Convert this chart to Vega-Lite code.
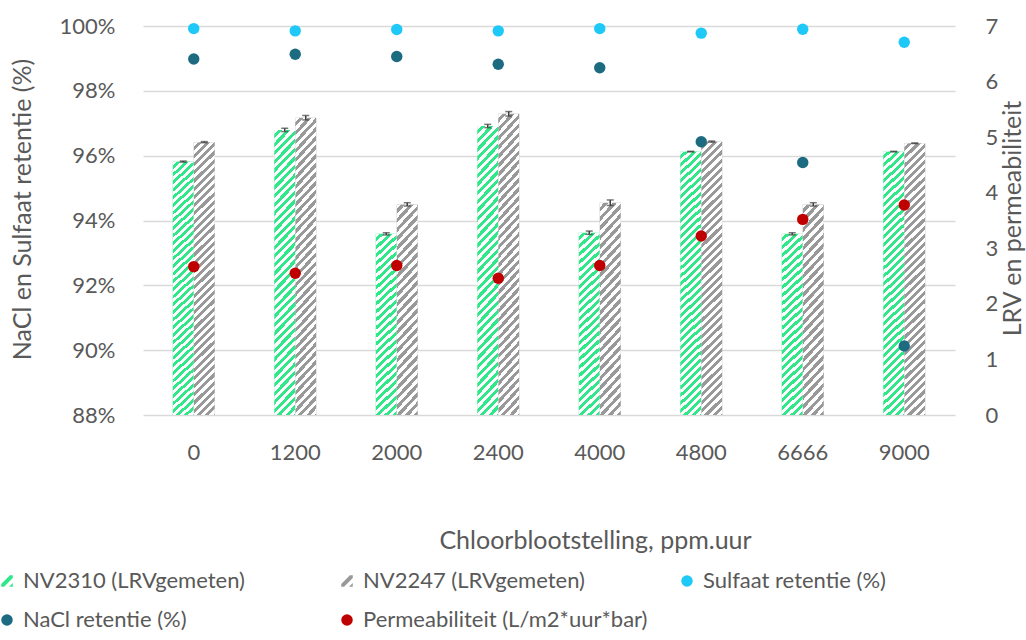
{
  "$schema": "https://vega.github.io/schema/vega-lite/v6.json",
  "width": 812,
  "height": 389,
  "autosize": {"type": "none"},
  "padding": {"left": 143, "top": 26, "right": 71, "bottom": 225},
  "config": {
    "view": {"stroke": null},
    "font": "Lato",
    "axis": {"labelFont": "Lato", "titleFont": "Lato", "labelColor": "#595959", "titleColor": "#595959", "labelFontSize": 22, "titleFontSize": 25, "titleFontWeight": "normal", "ticks": false, "tickSize": 0, "domain": false}
  },
  "datasets": {
    "bars": [
      {"x": "0", "series": "NV2310", "lrv": 4.56, "lo": 4.55, "hi": 4.57},
      {"x": "0", "series": "NV2247", "lrv": 4.91, "lo": 4.90, "hi": 4.92},
      {"x": "1200", "series": "NV2310", "lrv": 5.13, "lo": 5.10, "hi": 5.16},
      {"x": "1200", "series": "NV2247", "lrv": 5.35, "lo": 5.31, "hi": 5.39},
      {"x": "2000", "series": "NV2310", "lrv": 3.26, "lo": 3.24, "hi": 3.28},
      {"x": "2000", "series": "NV2247", "lrv": 3.79, "lo": 3.76, "hi": 3.82},
      {"x": "2400", "series": "NV2310", "lrv": 5.20, "lo": 5.17, "hi": 5.23},
      {"x": "2400", "series": "NV2247", "lrv": 5.42, "lo": 5.38, "hi": 5.46},
      {"x": "4000", "series": "NV2310", "lrv": 3.28, "lo": 3.25, "hi": 3.31},
      {"x": "4000", "series": "NV2247", "lrv": 3.82, "lo": 3.77, "hi": 3.87},
      {"x": "4800", "series": "NV2310", "lrv": 4.74, "lo": 4.735, "hi": 4.745},
      {"x": "4800", "series": "NV2247", "lrv": 4.92, "lo": 4.91, "hi": 4.93},
      {"x": "6666", "series": "NV2310", "lrv": 3.26, "lo": 3.24, "hi": 3.28},
      {"x": "6666", "series": "NV2247", "lrv": 3.79, "lo": 3.76, "hi": 3.82},
      {"x": "9000", "series": "NV2310", "lrv": 4.74, "lo": 4.735, "hi": 4.745},
      {"x": "9000", "series": "NV2247", "lrv": 4.89, "lo": 4.885, "hi": 4.895}
    ],
    "perm": [
      {"x": "0", "series": "Permeabiliteit (L/m2*uur*bar)", "v": 2.67},
      {"x": "1200", "series": "Permeabiliteit (L/m2*uur*bar)", "v": 2.55},
      {"x": "2000", "series": "Permeabiliteit (L/m2*uur*bar)", "v": 2.69},
      {"x": "2400", "series": "Permeabiliteit (L/m2*uur*bar)", "v": 2.46},
      {"x": "4000", "series": "Permeabiliteit (L/m2*uur*bar)", "v": 2.69},
      {"x": "4800", "series": "Permeabiliteit (L/m2*uur*bar)", "v": 3.22},
      {"x": "6666", "series": "Permeabiliteit (L/m2*uur*bar)", "v": 3.52},
      {"x": "9000", "series": "Permeabiliteit (L/m2*uur*bar)", "v": 3.78}
    ],
    "ret": [
      {"x": "0", "series": "Sulfaat retentie (%)", "v": 0.9992},
      {"x": "1200", "series": "Sulfaat retentie (%)", "v": 0.9985},
      {"x": "2000", "series": "Sulfaat retentie (%)", "v": 0.9989},
      {"x": "2400", "series": "Sulfaat retentie (%)", "v": 0.9985},
      {"x": "4000", "series": "Sulfaat retentie (%)", "v": 0.9992},
      {"x": "4800", "series": "Sulfaat retentie (%)", "v": 0.9978},
      {"x": "6666", "series": "Sulfaat retentie (%)", "v": 0.9990},
      {"x": "9000", "series": "Sulfaat retentie (%)", "v": 0.9950},
      {"x": "0", "series": "NaCl retentie (%)", "v": 0.9898},
      {"x": "1200", "series": "NaCl retentie (%)", "v": 0.9913},
      {"x": "2000", "series": "NaCl retentie (%)", "v": 0.9906},
      {"x": "2400", "series": "NaCl retentie (%)", "v": 0.9882},
      {"x": "4000", "series": "NaCl retentie (%)", "v": 0.9871},
      {"x": "4800", "series": "NaCl retentie (%)", "v": 0.9643},
      {"x": "6666", "series": "NaCl retentie (%)", "v": 0.9579},
      {"x": "9000", "series": "NaCl retentie (%)", "v": 0.9013}
    ]
  },
  "layer": [
    {
      "layer": [
        {
          "data": {"name": "bars"},
          "mark": {"type": "bar"},
          "encoding": {
            "x": {"field": "x", "type": "nominal", "scale": {"domain": ["0", "1200", "2000", "2400", "4000", "4800", "6666", "9000"], "paddingInner": 0.586, "paddingOuter": 0.293}, "axis": {"title": "Chloorblootstelling, ppm.uur", "labelAngle": 0, "labelPadding": 37, "labelBaseline": "middle", "titleX": 452, "titleY": 125, "titleBaseline": "middle", "titleAlign": "center", "grid": false}},
            "xOffset": {"field": "series", "type": "nominal", "scale": {"domain": ["NV2310", "NV2247"], "paddingInner": 0, "paddingOuter": 0}},
            "y": {"field": "lrv", "type": "quantitative", "scale": {"domain": [0, 7], "nice": false, "zero": true}, "axis": {"orient": "right", "title": "LRV en permeabiliteit", "values": [0, 1, 2, 3, 4, 5, 6, 7], "format": "d", "grid": false, "labelPadding": 30, "titleAngle": 270, "titleX": 57, "titleY": 192, "titleBaseline": "middle", "titleAlign": "center"}},
            "fill": {"condition": {"test": "datum.series === 'NV2310'", "value": "#30E88A"}, "value": "#999999"}
          }
        },
        {
          "data": {"name": "bars"},
          "mark": {"type": "bar"},
          "encoding": {
            "x": {"field": "x", "type": "nominal"},
            "xOffset": {"field": "series", "type": "nominal"},
            "y": {"field": "lrv", "type": "quantitative"},
            "fill": {
              "condition": {"test": "datum.lrv < 4", "value": {"gradient": "linear", "x1": 0, "y1": 0, "x2": 0.117, "y2": 1.095, "stops": [
                {"offset": 0, "color": "#fff"}, {"offset": 0.02, "color": "#fff"}, {"offset": 0.02, "color": "rgba(255,255,255,0)"}, {"offset": 0.04, "color": "rgba(255,255,255,0)"},
                {"offset": 0.04, "color": "#fff"}, {"offset": 0.06, "color": "#fff"}, {"offset": 0.06, "color": "rgba(255,255,255,0)"}, {"offset": 0.08, "color": "rgba(255,255,255,0)"},
                {"offset": 0.08, "color": "#fff"}, {"offset": 0.1, "color": "#fff"}, {"offset": 0.1, "color": "rgba(255,255,255,0)"}, {"offset": 0.12, "color": "rgba(255,255,255,0)"},
                {"offset": 0.12, "color": "#fff"}, {"offset": 0.14, "color": "#fff"}, {"offset": 0.14, "color": "rgba(255,255,255,0)"}, {"offset": 0.16, "color": "rgba(255,255,255,0)"},
                {"offset": 0.16, "color": "#fff"}, {"offset": 0.18, "color": "#fff"}, {"offset": 0.18, "color": "rgba(255,255,255,0)"}, {"offset": 0.2, "color": "rgba(255,255,255,0)"},
                {"offset": 0.2, "color": "#fff"}, {"offset": 0.22, "color": "#fff"}, {"offset": 0.22, "color": "rgba(255,255,255,0)"}, {"offset": 0.24, "color": "rgba(255,255,255,0)"},
                {"offset": 0.24, "color": "#fff"}, {"offset": 0.26, "color": "#fff"}, {"offset": 0.26, "color": "rgba(255,255,255,0)"}, {"offset": 0.28, "color": "rgba(255,255,255,0)"},
                {"offset": 0.28, "color": "#fff"}, {"offset": 0.3, "color": "#fff"}, {"offset": 0.3, "color": "rgba(255,255,255,0)"}, {"offset": 0.32, "color": "rgba(255,255,255,0)"},
                {"offset": 0.32, "color": "#fff"}, {"offset": 0.34, "color": "#fff"}, {"offset": 0.34, "color": "rgba(255,255,255,0)"}, {"offset": 0.36, "color": "rgba(255,255,255,0)"},
                {"offset": 0.36, "color": "#fff"}, {"offset": 0.38, "color": "#fff"}, {"offset": 0.38, "color": "rgba(255,255,255,0)"}, {"offset": 0.4, "color": "rgba(255,255,255,0)"},
                {"offset": 0.4, "color": "#fff"}, {"offset": 0.42, "color": "#fff"}, {"offset": 0.42, "color": "rgba(255,255,255,0)"}, {"offset": 0.44, "color": "rgba(255,255,255,0)"},
                {"offset": 0.44, "color": "#fff"}, {"offset": 0.46, "color": "#fff"}, {"offset": 0.46, "color": "rgba(255,255,255,0)"}, {"offset": 0.48, "color": "rgba(255,255,255,0)"},
                {"offset": 0.48, "color": "#fff"}, {"offset": 0.5, "color": "#fff"}, {"offset": 0.5, "color": "rgba(255,255,255,0)"}, {"offset": 0.52, "color": "rgba(255,255,255,0)"},
                {"offset": 0.52, "color": "#fff"}, {"offset": 0.54, "color": "#fff"}, {"offset": 0.54, "color": "rgba(255,255,255,0)"}, {"offset": 0.56, "color": "rgba(255,255,255,0)"},
                {"offset": 0.56, "color": "#fff"}, {"offset": 0.58, "color": "#fff"}, {"offset": 0.58, "color": "rgba(255,255,255,0)"}, {"offset": 0.6, "color": "rgba(255,255,255,0)"},
                {"offset": 0.6, "color": "#fff"}, {"offset": 0.62, "color": "#fff"}, {"offset": 0.62, "color": "rgba(255,255,255,0)"}, {"offset": 0.64, "color": "rgba(255,255,255,0)"},
                {"offset": 0.64, "color": "#fff"}, {"offset": 0.66, "color": "#fff"}, {"offset": 0.66, "color": "rgba(255,255,255,0)"}, {"offset": 0.68, "color": "rgba(255,255,255,0)"},
                {"offset": 0.68, "color": "#fff"}, {"offset": 0.7, "color": "#fff"}, {"offset": 0.7, "color": "rgba(255,255,255,0)"}, {"offset": 0.72, "color": "rgba(255,255,255,0)"},
                {"offset": 0.72, "color": "#fff"}, {"offset": 0.74, "color": "#fff"}, {"offset": 0.74, "color": "rgba(255,255,255,0)"}, {"offset": 0.76, "color": "rgba(255,255,255,0)"},
                {"offset": 0.76, "color": "#fff"}, {"offset": 0.78, "color": "#fff"}, {"offset": 0.78, "color": "rgba(255,255,255,0)"}, {"offset": 0.8, "color": "rgba(255,255,255,0)"},
                {"offset": 0.8, "color": "#fff"}, {"offset": 0.82, "color": "#fff"}, {"offset": 0.82, "color": "rgba(255,255,255,0)"}, {"offset": 0.84, "color": "rgba(255,255,255,0)"},
                {"offset": 0.84, "color": "#fff"}, {"offset": 0.86, "color": "#fff"}, {"offset": 0.86, "color": "rgba(255,255,255,0)"}, {"offset": 0.88, "color": "rgba(255,255,255,0)"},
                {"offset": 0.88, "color": "#fff"}, {"offset": 0.9, "color": "#fff"}, {"offset": 0.9, "color": "rgba(255,255,255,0)"}, {"offset": 0.92, "color": "rgba(255,255,255,0)"},
                {"offset": 0.92, "color": "#fff"}, {"offset": 0.94, "color": "#fff"}, {"offset": 0.94, "color": "rgba(255,255,255,0)"}, {"offset": 0.96, "color": "rgba(255,255,255,0)"},
                {"offset": 0.96, "color": "#fff"}, {"offset": 0.98, "color": "#fff"}, {"offset": 0.98, "color": "rgba(255,255,255,0)"}, {"offset": 1, "color": "rgba(255,255,255,0)"}
              ]}},
              "value": {"gradient": "linear", "x1": 0, "y1": 0, "x2": 0.0813, "y2": 1.07, "stops": [
                {"offset": 0, "color": "#fff"}, {"offset": 0.014, "color": "#fff"}, {"offset": 0.014, "color": "rgba(255,255,255,0)"}, {"offset": 0.028, "color": "rgba(255,255,255,0)"},
                {"offset": 0.028, "color": "#fff"}, {"offset": 0.042, "color": "#fff"}, {"offset": 0.042, "color": "rgba(255,255,255,0)"}, {"offset": 0.056, "color": "rgba(255,255,255,0)"},
                {"offset": 0.056, "color": "#fff"}, {"offset": 0.07, "color": "#fff"}, {"offset": 0.07, "color": "rgba(255,255,255,0)"}, {"offset": 0.084, "color": "rgba(255,255,255,0)"},
                {"offset": 0.084, "color": "#fff"}, {"offset": 0.098, "color": "#fff"}, {"offset": 0.098, "color": "rgba(255,255,255,0)"}, {"offset": 0.112, "color": "rgba(255,255,255,0)"},
                {"offset": 0.112, "color": "#fff"}, {"offset": 0.126, "color": "#fff"}, {"offset": 0.126, "color": "rgba(255,255,255,0)"}, {"offset": 0.14, "color": "rgba(255,255,255,0)"},
                {"offset": 0.14, "color": "#fff"}, {"offset": 0.154, "color": "#fff"}, {"offset": 0.154, "color": "rgba(255,255,255,0)"}, {"offset": 0.168, "color": "rgba(255,255,255,0)"},
                {"offset": 0.168, "color": "#fff"}, {"offset": 0.182, "color": "#fff"}, {"offset": 0.182, "color": "rgba(255,255,255,0)"}, {"offset": 0.196, "color": "rgba(255,255,255,0)"},
                {"offset": 0.196, "color": "#fff"}, {"offset": 0.21, "color": "#fff"}, {"offset": 0.21, "color": "rgba(255,255,255,0)"}, {"offset": 0.224, "color": "rgba(255,255,255,0)"},
                {"offset": 0.224, "color": "#fff"}, {"offset": 0.238, "color": "#fff"}, {"offset": 0.238, "color": "rgba(255,255,255,0)"}, {"offset": 0.252, "color": "rgba(255,255,255,0)"},
                {"offset": 0.252, "color": "#fff"}, {"offset": 0.266, "color": "#fff"}, {"offset": 0.266, "color": "rgba(255,255,255,0)"}, {"offset": 0.28, "color": "rgba(255,255,255,0)"},
                {"offset": 0.28, "color": "#fff"}, {"offset": 0.294, "color": "#fff"}, {"offset": 0.294, "color": "rgba(255,255,255,0)"}, {"offset": 0.308, "color": "rgba(255,255,255,0)"},
                {"offset": 0.308, "color": "#fff"}, {"offset": 0.322, "color": "#fff"}, {"offset": 0.322, "color": "rgba(255,255,255,0)"}, {"offset": 0.336, "color": "rgba(255,255,255,0)"},
                {"offset": 0.336, "color": "#fff"}, {"offset": 0.35, "color": "#fff"}, {"offset": 0.35, "color": "rgba(255,255,255,0)"}, {"offset": 0.364, "color": "rgba(255,255,255,0)"},
                {"offset": 0.364, "color": "#fff"}, {"offset": 0.378, "color": "#fff"}, {"offset": 0.378, "color": "rgba(255,255,255,0)"}, {"offset": 0.392, "color": "rgba(255,255,255,0)"},
                {"offset": 0.392, "color": "#fff"}, {"offset": 0.406, "color": "#fff"}, {"offset": 0.406, "color": "rgba(255,255,255,0)"}, {"offset": 0.42, "color": "rgba(255,255,255,0)"},
                {"offset": 0.42, "color": "#fff"}, {"offset": 0.434, "color": "#fff"}, {"offset": 0.434, "color": "rgba(255,255,255,0)"}, {"offset": 0.448, "color": "rgba(255,255,255,0)"},
                {"offset": 0.448, "color": "#fff"}, {"offset": 0.462, "color": "#fff"}, {"offset": 0.462, "color": "rgba(255,255,255,0)"}, {"offset": 0.476, "color": "rgba(255,255,255,0)"},
                {"offset": 0.476, "color": "#fff"}, {"offset": 0.49, "color": "#fff"}, {"offset": 0.49, "color": "rgba(255,255,255,0)"}, {"offset": 0.504, "color": "rgba(255,255,255,0)"},
                {"offset": 0.504, "color": "#fff"}, {"offset": 0.518, "color": "#fff"}, {"offset": 0.518, "color": "rgba(255,255,255,0)"}, {"offset": 0.532, "color": "rgba(255,255,255,0)"},
                {"offset": 0.532, "color": "#fff"}, {"offset": 0.546, "color": "#fff"}, {"offset": 0.546, "color": "rgba(255,255,255,0)"}, {"offset": 0.56, "color": "rgba(255,255,255,0)"},
                {"offset": 0.56, "color": "#fff"}, {"offset": 0.574, "color": "#fff"}, {"offset": 0.574, "color": "rgba(255,255,255,0)"}, {"offset": 0.588, "color": "rgba(255,255,255,0)"},
                {"offset": 0.588, "color": "#fff"}, {"offset": 0.602, "color": "#fff"}, {"offset": 0.602, "color": "rgba(255,255,255,0)"}, {"offset": 0.616, "color": "rgba(255,255,255,0)"},
                {"offset": 0.616, "color": "#fff"}, {"offset": 0.63, "color": "#fff"}, {"offset": 0.63, "color": "rgba(255,255,255,0)"}, {"offset": 0.644, "color": "rgba(255,255,255,0)"},
                {"offset": 0.644, "color": "#fff"}, {"offset": 0.658, "color": "#fff"}, {"offset": 0.658, "color": "rgba(255,255,255,0)"}, {"offset": 0.672, "color": "rgba(255,255,255,0)"},
                {"offset": 0.672, "color": "#fff"}, {"offset": 0.686, "color": "#fff"}, {"offset": 0.686, "color": "rgba(255,255,255,0)"}, {"offset": 0.7, "color": "rgba(255,255,255,0)"},
                {"offset": 0.7, "color": "#fff"}, {"offset": 0.714, "color": "#fff"}, {"offset": 0.714, "color": "rgba(255,255,255,0)"}, {"offset": 0.728, "color": "rgba(255,255,255,0)"},
                {"offset": 0.728, "color": "#fff"}, {"offset": 0.742, "color": "#fff"}, {"offset": 0.742, "color": "rgba(255,255,255,0)"}, {"offset": 0.756, "color": "rgba(255,255,255,0)"},
                {"offset": 0.756, "color": "#fff"}, {"offset": 0.77, "color": "#fff"}, {"offset": 0.77, "color": "rgba(255,255,255,0)"}, {"offset": 0.784, "color": "rgba(255,255,255,0)"},
                {"offset": 0.784, "color": "#fff"}, {"offset": 0.798, "color": "#fff"}, {"offset": 0.798, "color": "rgba(255,255,255,0)"}, {"offset": 0.812, "color": "rgba(255,255,255,0)"},
                {"offset": 0.812, "color": "#fff"}, {"offset": 0.826, "color": "#fff"}, {"offset": 0.826, "color": "rgba(255,255,255,0)"}, {"offset": 0.84, "color": "rgba(255,255,255,0)"},
                {"offset": 0.84, "color": "#fff"}, {"offset": 0.854, "color": "#fff"}, {"offset": 0.854, "color": "rgba(255,255,255,0)"}, {"offset": 0.868, "color": "rgba(255,255,255,0)"},
                {"offset": 0.868, "color": "#fff"}, {"offset": 0.882, "color": "#fff"}, {"offset": 0.882, "color": "rgba(255,255,255,0)"}, {"offset": 0.896, "color": "rgba(255,255,255,0)"},
                {"offset": 0.896, "color": "#fff"}, {"offset": 0.91, "color": "#fff"}, {"offset": 0.91, "color": "rgba(255,255,255,0)"}, {"offset": 0.924, "color": "rgba(255,255,255,0)"},
                {"offset": 0.924, "color": "#fff"}, {"offset": 0.938, "color": "#fff"}, {"offset": 0.938, "color": "rgba(255,255,255,0)"}, {"offset": 0.952, "color": "rgba(255,255,255,0)"},
                {"offset": 0.952, "color": "#fff"}, {"offset": 0.966, "color": "#fff"}, {"offset": 0.966, "color": "rgba(255,255,255,0)"}, {"offset": 0.98, "color": "rgba(255,255,255,0)"},
                {"offset": 0.98, "color": "#fff"}, {"offset": 0.994, "color": "#fff"}, {"offset": 0.994, "color": "rgba(255,255,255,0)"}, {"offset": 1, "color": "rgba(255,255,255,0)"}
              ]}
            }
          }
        },
        {
          "data": {"name": "bars"},
          "mark": {"type": "rule", "color": "#404040", "strokeWidth": 1.5},
          "encoding": {
            "x": {"field": "x", "type": "nominal"},
            "xOffset": {"field": "series", "type": "nominal"},
            "y": {"field": "lo", "type": "quantitative"},
            "y2": {"field": "hi"}
          }
        },
        {
          "data": {"name": "bars"},
          "mark": {"type": "tick", "color": "#404040", "size": 7, "thickness": 1.5},
          "encoding": {
            "x": {"field": "x", "type": "nominal"},
            "xOffset": {"field": "series", "type": "nominal"},
            "y": {"field": "lo", "type": "quantitative"}
          }
        },
        {
          "data": {"name": "bars"},
          "mark": {"type": "tick", "color": "#404040", "size": 7, "thickness": 1.5},
          "encoding": {
            "x": {"field": "x", "type": "nominal"},
            "xOffset": {"field": "series", "type": "nominal"},
            "y": {"field": "hi", "type": "quantitative"}
          }
        },
        {
          "data": {"name": "perm"},
          "mark": {"type": "point", "filled": true, "size": 130, "opacity": 1},
          "encoding": {
            "x": {"field": "x", "type": "nominal"},
            "y": {"field": "v", "type": "quantitative"},
            "color": {"field": "series", "type": "nominal", "scale": {"domain": ["NV2310 (LRVgemeten)", "NaCl retentie (%)", "NV2247 (LRVgemeten)", "Permeabiliteit (L/m2*uur*bar)", "Sulfaat retentie (%)"], "range": ["#30E88A", "#1D6B80", "#999999", "#C00000", "#1EC8F7"]}, "legend": {"orient": "none", "legendX": -147, "legendY": 544, "columns": 3, "gridAlign": "all", "columnPadding": 28, "rowPadding": 17, "title": null, "labelFont": "Lato", "labelFontSize": 22, "labelColor": "#595959", "symbolSize": 133, "labelOffset": 5, "symbolStrokeWidth": 0, "padding": 0, "labelLimit": 400}},
            "shape": {"field": "series", "type": "nominal", "scale": {"domain": ["NV2310 (LRVgemeten)", "NaCl retentie (%)", "NV2247 (LRVgemeten)", "Permeabiliteit (L/m2*uur*bar)", "Sulfaat retentie (%)"], "range": ["M-1,0.5L0.5,-1L1,-1L1,-0.5L-0.5,1L-1,1Z M0.35,1L1,0.35L1,1Z", "circle", "M-1,0.5L0.5,-1L1,-1L1,-0.5L-0.5,1L-1,1Z M0.35,1L1,0.35L1,1Z", "circle", "circle"]}, "legend": {"orient": "none", "legendX": -147, "legendY": 544, "columns": 3, "gridAlign": "all", "columnPadding": 28, "rowPadding": 17, "title": null, "labelFont": "Lato", "labelFontSize": 22, "labelColor": "#595959", "symbolSize": 133, "labelOffset": 5, "symbolStrokeWidth": 0, "padding": 0, "labelLimit": 400}}
          }
        }
      ]
    },
    {
      "data": {"name": "ret"},
      "mark": {"type": "point", "filled": true, "size": 130, "opacity": 1},
      "encoding": {
        "x": {"field": "x", "type": "nominal"},
        "y": {"field": "v", "type": "quantitative", "scale": {"domain": [0.88, 1], "nice": false, "zero": false}, "axis": {"orient": "left", "title": "NaCl en Sulfaat retentie (%)", "values": [0.88, 0.9, 0.92, 0.94, 0.96, 0.98, 1], "format": ".0%", "grid": true, "gridColor": "#D9D9D9", "gridWidth": 1.3, "labelPadding": 28, "titleAngle": 270, "titleX": -121, "titleY": 183, "titleBaseline": "middle", "titleAlign": "center"}},
        "color": {"field": "series", "type": "nominal", "scale": {"domain": ["NV2310 (LRVgemeten)", "NaCl retentie (%)", "NV2247 (LRVgemeten)", "Permeabiliteit (L/m2*uur*bar)", "Sulfaat retentie (%)"], "range": ["#30E88A", "#1D6B80", "#999999", "#C00000", "#1EC8F7"]}, "legend": {"orient": "none", "legendX": -147, "legendY": 544, "columns": 3, "gridAlign": "all", "columnPadding": 28, "rowPadding": 17, "title": null, "labelFont": "Lato", "labelFontSize": 22, "labelColor": "#595959", "symbolSize": 133, "labelOffset": 5, "symbolStrokeWidth": 0, "padding": 0, "labelLimit": 400}},
        "shape": {"field": "series", "type": "nominal", "scale": {"domain": ["NV2310 (LRVgemeten)", "NaCl retentie (%)", "NV2247 (LRVgemeten)", "Permeabiliteit (L/m2*uur*bar)", "Sulfaat retentie (%)"], "range": ["M-1,0.5L0.5,-1L1,-1L1,-0.5L-0.5,1L-1,1Z M0.35,1L1,0.35L1,1Z", "circle", "M-1,0.5L0.5,-1L1,-1L1,-0.5L-0.5,1L-1,1Z M0.35,1L1,0.35L1,1Z", "circle", "circle"]}, "legend": {"orient": "none", "legendX": -147, "legendY": 544, "columns": 3, "gridAlign": "all", "columnPadding": 28, "rowPadding": 17, "title": null, "labelFont": "Lato", "labelFontSize": 22, "labelColor": "#595959", "symbolSize": 133, "labelOffset": 5, "symbolStrokeWidth": 0, "padding": 0, "labelLimit": 400}}
      }
    }
  ],
  "resolve": {"scale": {"y": "independent"}}
}
